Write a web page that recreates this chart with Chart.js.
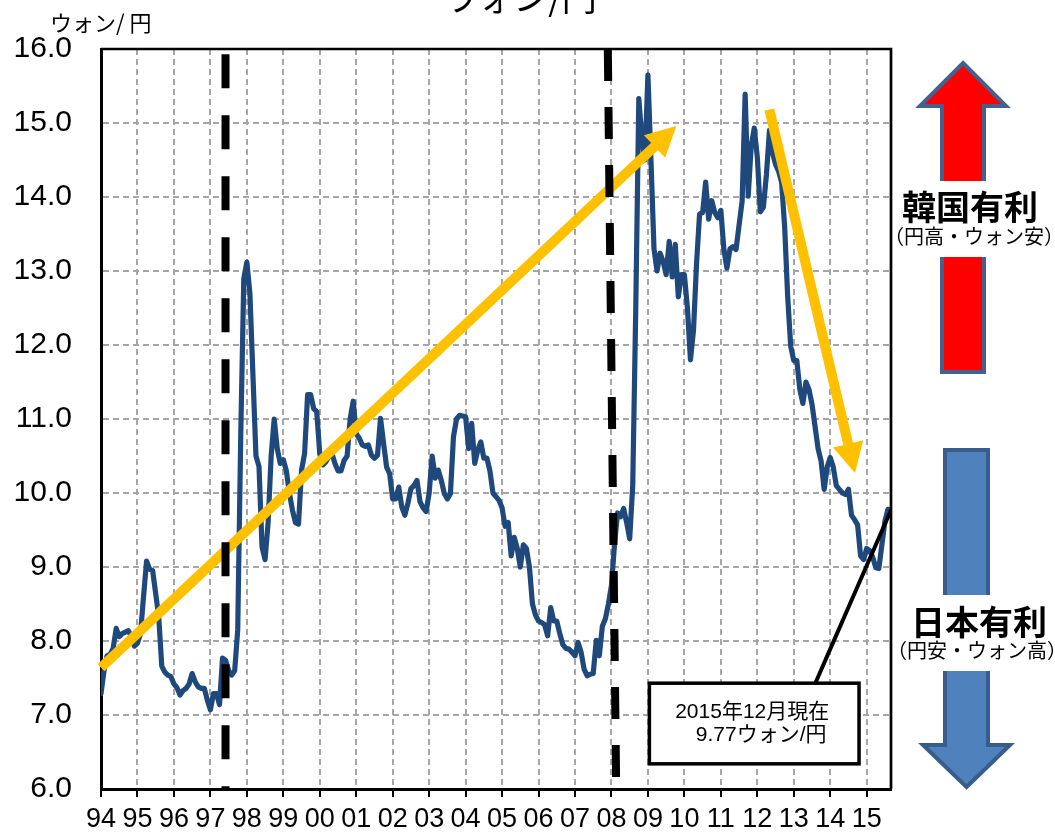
<!DOCTYPE html>
<html lang="ja">
<head>
<meta charset="utf-8">
<title>ウォン/円</title>
<script src="https://cdn.jsdelivr.net/npm/chart.js@4.4.1/dist/chart.umd.min.js"></script>
<style>
  html, body { margin: 0; padding: 0; background: #fff; }
  #wrap { position: relative; width: 1055px; height: 837px; }
</style>
</head>
<body>
<div id="wrap"><canvas id="chart"></canvas></div>
<script>
// Tick labels
const yearLabels = ['94','95','96','97','98','99','00','01','02','03','04','05','06','07','08','09','10','11','12','13','14','15'];
const yTickLabels = ['6.0','7.0','8.0','9.0','10.0','11.0','12.0','13.0','14.0','15.0','16.0'];

// Monthly won per yen, from Jan 1994 (one row per year)
const wonPerYen = [
  7.29, 7.6, 7.8, 7.82, 7.9, 8.17, 8.06, 8.1, 8.12, 8.14, 8.06, 7.93,
  7.97, 8.1, 8.6, 9.08, 8.97, 8.95, 8.64, 8.33, 7.66, 7.58, 7.54, 7.52,
  7.42, 7.37, 7.27, 7.33, 7.36, 7.42, 7.56, 7.45, 7.38, 7.36, 7.36, 7.2,
  7.07, 7.29, 7.29, 7.14, 7.77, 7.74, 7.6, 7.54, 7.6, 8.15, 10.8, 12.9,
  13.12, 12.7, 11.6, 10.5, 10.36, 9.27, 9.1, 9.6, 10.5, 11.0, 10.6, 10.4,
  10.45, 10.3, 10.0, 9.77, 9.6, 9.58, 10.31, 10.53, 11.33, 11.33, 11.14, 11.1,
  10.53, 10.38, 10.42, 10.5, 10.53, 10.4, 10.3, 10.3, 10.44, 10.5, 11.0, 11.24,
  10.8, 10.74, 10.65, 10.63, 10.65, 10.51, 10.47, 10.51, 11.01, 10.67, 10.35, 10.26,
  9.92, 9.92, 10.08, 9.81, 9.7, 9.86, 10.06, 10.1, 10.17, 9.88, 9.8, 9.75,
  10.0, 10.5, 10.2, 10.31, 10.17, 9.99, 9.92, 9.99, 10.76, 11.0, 11.05, 11.04,
  11.03, 10.6, 10.94, 10.4, 10.58, 10.69, 10.47, 10.47, 10.3, 10.0, 9.95, 9.9,
  9.8, 9.55, 9.6, 9.15, 9.4, 9.25, 9.0, 9.3, 9.25, 9.0, 8.5, 8.35,
  8.27, 8.25, 8.22, 8.07, 8.45, 8.27, 8.27, 8.1, 7.95, 7.9, 7.89, 7.85,
  7.8, 7.98, 7.85, 7.62, 7.53, 7.55, 7.56, 8.01, 7.8, 8.2, 8.3, 8.5,
  8.75, 9.3, 9.73, 9.68, 9.79, 9.6, 9.38, 10.1, 12.5, 15.33, 14.8, 14.5,
  15.65, 14.5, 13.3, 13.0, 13.24, 13.13, 12.95, 13.4, 12.92, 13.36, 12.65, 12.95,
  12.95, 12.5, 11.8, 12.2, 13.1, 13.77, 13.79, 14.2, 13.7, 13.95, 13.79, 13.72,
  13.82, 13.29, 13.04, 13.3, 13.33, 13.29, 13.62, 13.94, 15.39, 14.01, 14.69, 14.93,
  14.54, 13.8, 13.86, 14.3, 14.9, 14.6, 14.44, 14.35, 14.2, 13.6, 12.65, 11.98,
  11.79, 11.79, 11.4, 11.21, 11.5, 11.4, 11.2, 10.9, 10.6, 10.43, 10.05, 10.35,
  10.48, 10.35, 10.1, 10.05, 10.0, 9.98, 10.05, 9.7, 9.64, 9.57, 9.15, 9.1,
  9.25, 9.22, 9.13, 8.99, 8.98, 9.3, 9.62, 9.78, 9.77
];
const firstYear = 1994;

// Annotations in chart units (year, won/yen)
const rallyArrow = [[1994.0, 7.64], [2009.78, 14.96]];
const slideArrow = [[2012.33, 15.18], [2014.68, 10.27]];
const crisis1997 = [[1997.415, 15.93], [1997.415, 6.0]];
const crisis2008 = [[2007.90, 16.0], [2008.13, 6.0]];
const noteLeader = [[2013.59, 7.43], [2015.667, 9.77]];
const noteBox = [[2009.04, 7.43], [2014.79, 6.34]];
const noteLines = ['2015年12月現在', '9.77ウォン/円'];

const FONT = '"Liberation Sans", "Noto Sans CJK JP", sans-serif';
const JP = '"Noto Sans CJK JP", "Liberation Sans", sans-serif';
Chart.defaults.font.family = FONT;

const toPts = arr => arr.map(p => ({ x: p[0], y: p[1] }));
const seriesPts = wonPerYen.map((v, i) => ({ x: firstYear + i / 12, y: v }));

function drawArrow(ctx, x0, y0, x1, y1, shaftW, headLen, headHW, color) {
  const dx = x1 - x0, dy = y1 - y0;
  const len = Math.hypot(dx, dy);
  const ux = dx / len, uy = dy / len;
  const bx = x1 - ux * headLen, by = y1 - uy * headLen;
  ctx.save();
  ctx.strokeStyle = color;
  ctx.lineWidth = shaftW;
  ctx.lineCap = 'butt';
  ctx.beginPath();
  ctx.moveTo(x0, y0);
  ctx.lineTo(bx + ux, by + uy);
  ctx.stroke();
  ctx.fillStyle = color;
  ctx.beginPath();
  ctx.moveTo(x1, y1);
  ctx.lineTo(bx - uy * headHW, by + ux * headHW);
  ctx.lineTo(bx + uy * headHW, by - ux * headHW);
  ctx.closePath();
  ctx.fill();
  ctx.restore();
}

function blockArrow(ctx, cx, tipY, baseY, endY, headHW, shaftHW, fill, stroke) {
  ctx.save();
  ctx.beginPath();
  ctx.moveTo(cx, tipY);
  ctx.lineTo(cx + headHW, baseY);
  ctx.lineTo(cx + shaftHW, baseY);
  ctx.lineTo(cx + shaftHW, endY);
  ctx.lineTo(cx - shaftHW, endY);
  ctx.lineTo(cx - shaftHW, baseY);
  ctx.lineTo(cx - headHW, baseY);
  ctx.closePath();
  ctx.fillStyle = fill;
  ctx.fill();
  ctx.lineWidth = 4;
  ctx.strokeStyle = stroke;
  ctx.lineJoin = 'miter';
  ctx.stroke();
  ctx.restore();
}

const decor = {
  id: 'decor',
  afterDatasetDraw(chart, args) {
    if (args.index !== 0) return;
    const { ctx, scales: { x, y } } = chart;
    [rallyArrow, slideArrow].forEach(a => {
      drawArrow(ctx,
        x.getPixelForValue(a[0][0]), y.getPixelForValue(a[0][1]),
        x.getPixelForValue(a[1][0]), y.getPixelForValue(a[1][1]),
        10, 30, 15.5, '#FFC000');
    });
  },
  afterDatasetsDraw(chart) {
    const { ctx, chartArea: ca, scales: { x, y } } = chart;
    ctx.save();
    // frame top / right
    ctx.strokeStyle = '#000';
    ctx.lineWidth = 2.7;
    ctx.beginPath();
    ctx.moveTo(ca.left, ca.top);
    ctx.lineTo(ca.right, ca.top);
    ctx.lineTo(ca.right, ca.bottom);
    ctx.stroke();

    // note box
    const bx0 = x.getPixelForValue(noteBox[0][0]), by0 = y.getPixelForValue(noteBox[0][1]);
    const bx1 = x.getPixelForValue(noteBox[1][0]), by1 = y.getPixelForValue(noteBox[1][1]);
    ctx.fillStyle = '#fff';
    ctx.fillRect(bx0, by0, bx1 - bx0, by1 - by0);
    ctx.lineWidth = 3.5;
    ctx.strokeRect(bx0, by0, bx1 - bx0, by1 - by0);
    ctx.fillStyle = '#000';
    ctx.font = '21px ' + FONT;
    ctx.textAlign = 'center';
    ctx.textBaseline = 'middle';
    const bcx = (bx0 + bx1) / 2;
    ctx.fillText(noteLines[0], bcx - 2, by0 + 29);
    ctx.fillText(noteLines[1], bcx + 7, by0 + 52);

    // titles
    ctx.font = '35px ' + JP;
    ctx.textBaseline = 'alphabetic';
    ctx.fillText('ウォン/円', 520, 11);
    ctx.font = '22px ' + JP;
    ctx.textAlign = 'left';
    ctx.textBaseline = 'middle';
    ctx.fillText('ウォン/ 円', 50, 23);

    // side arrows
    blockArrow(ctx, 963, 63, 106, 372, 43, 21, '#FF0000', '#41618F');
    blockArrow(ctx, 966.5, 787, 745, 450, 43.5, 21.5, '#4F81BD', '#385D8A');
    ctx.fillStyle = '#fff';
    ctx.fillRect(930, 181, 70, 76);
    ctx.fillRect(930, 595, 70, 76);

    ctx.fillStyle = '#000';
    ctx.textAlign = 'center';
    ctx.textBaseline = 'middle';
    ctx.font = 'bold 34px ' + JP;
    ctx.fillText('韓国有利', 970, 207);
    ctx.fillText('日本有利', 979, 622);
    ctx.font = '20px ' + JP;
    ctx.fillText('（円高・ウォン安）', 974, 236);
    ctx.fillText('（円安・ウォン高）', 977, 650);
    ctx.restore();
  }
};

const gridColor = c => (c.tick && (c.tick.value === 6 || c.tick.value === 16 || c.tick.value === 1994)) ? 'rgba(0,0,0,0)' : '#A6A6A6';

new Chart(document.getElementById('chart'), {
  type: 'line',
  data: {
    datasets: [
      {
        data: seriesPts,
        borderColor: '#1F497D',
        borderWidth: 5.2,
        borderJoinStyle: 'round',
        borderCapStyle: 'round',
        pointRadius: 0,
        tension: 0,
        order: 3
      },
      {
        data: toPts(crisis1997),
        borderColor: '#000',
        borderWidth: 8,
        borderDash: [34, 27],
        borderCapStyle: 'butt',
        pointRadius: 0,
        order: 1
      },
      {
        data: toPts(crisis2008),
        borderColor: '#000',
        borderWidth: 8,
        borderDash: [32, 26],
        borderCapStyle: 'butt',
        pointRadius: 0,
        order: 1
      },
      {
        data: toPts(noteLeader),
        borderColor: '#000',
        borderWidth: 4,
        pointRadius: 0,
        order: 1
      }
    ]
  },
  options: {
    responsive: true,
    maintainAspectRatio: false,
    animation: false,
    layout: { padding: { top: 49, right: 164, left: 0, bottom: 0 } },
    plugins: { legend: { display: false }, tooltip: { enabled: false }, title: { display: false } },
    scales: {
      x: {
        type: 'linear',
        min: 1994,
        max: firstYear + (wonPerYen.length - 1) / 12,
        afterFit: s => { s.height = 48; },
        ticks: {
          stepSize: 1,
          includeBounds: false,
          autoSkip: false,
          maxRotation: 0,
          padding: 6,
          color: '#000',
          font: { size: 27 },
          callback: v => yearLabels[Math.round(v) - firstYear]
        },
        grid: { color: gridColor, lineWidth: 2, tickLength: 8, tickColor: '#000', tickWidth: 2, tickBorderDash: [] },
        border: { color: '#000', width: 3, dash: [6, 4] }
      },
      y: {
        min: 6,
        max: 16,
        afterFit: s => { s.width = 101; },
        ticks: {
          stepSize: 1,
          padding: 29,
          color: '#000',
          font: { size: 30 },
          callback: v => yTickLabels[Math.round(v) - 6]
        },
        grid: { color: gridColor, lineWidth: 2, drawTicks: false },
        border: { color: '#000', width: 3, dash: [6, 4] }
      }
    }
  },
  plugins: [decor]
});
</script>
</body>
</html>
